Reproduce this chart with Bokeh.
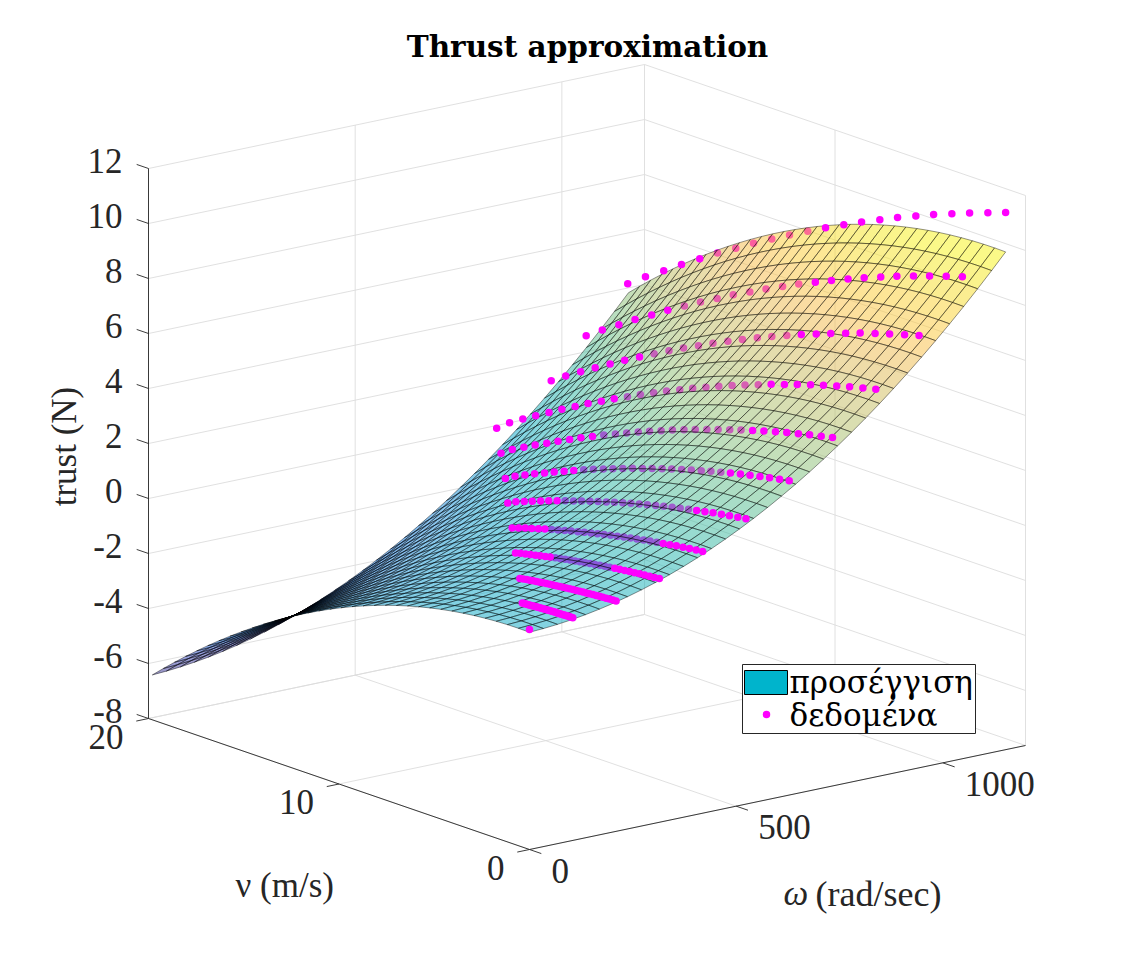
import numpy as np
from bokeh.plotting import figure
from bokeh.models import Range1d, ColumnDataSource
from bokeh.embed import file_html
from bokeh.resources import INLINE
from bokeh.core.properties import value

# ---------------- data ----------------
rpm = [1000, 2000, 3000, 4000, 5000, 6000, 7000, 8000, 9000, 10000, 11000]
static_thrust = [0.10, 0.38, 0.86, 1.52, 2.38, 3.43, 4.67, 6.10, 7.72, 9.53, 11.53]   # N at v = 0
max_speed = [2.65, 5.05, 7.55, 10.0, 12.5, 14.9, 17.4, 19.9, 22.4, 24.9, 27.4]       # m/s where thrust ~ 0
speed_fraction = [0.000, 0.034, 0.069, 0.103, 0.138, 0.172, 0.207, 0.241, 0.276, 0.310,
                  0.345, 0.379, 0.414, 0.448, 0.483, 0.517, 0.552, 0.586, 0.621, 0.655,
                  0.690, 0.724, 0.759, 0.793, 0.828, 0.862, 0.897, 0.931, 0.966, 1.000]
thrust_profile = [1.000, 0.980, 0.960, 0.938, 0.916, 0.892, 0.867, 0.841, 0.814, 0.786,
                  0.757, 0.727, 0.695, 0.663, 0.630, 0.595, 0.560, 0.523, 0.485, 0.446,
                  0.407, 0.366, 0.324, 0.281, 0.237, 0.191, 0.145, 0.098, 0.049, -0.010]
speed_cut = 19.9          # data kept for v <= 19.9 m/s
origin_point = (0.0, 0.0, 0.0)

# fitted surface  T = p00 + p10*w + p01*v + p20*w^2 + p11*w*v + p02*v^2
fit_p00 = -0.10
fit_p10 = 6.0e-4
fit_p01 = 0.020
fit_p20 = 7.165e-6
fit_p11 = 3.0e-6
fit_p02 = -0.0170
fit_w_max = 1152.0
fit_v_max = 19.8
fit_n = 35

omega_ticks = [0, 500, 1000]
nu_ticks = [0, 10, 20]
z_ticks = [-8, -6, -4, -2, 0, 2, 4, 6, 8, 10, 12]
W_LIM = (0.0, 1200.0)
V_LIM = (0.0, 20.0)
Z_LIM = (-8.0, 12.0)

title_text = "Thrust approximation"
z_label = "trust (N)"
nu_label = "ν (m/s)"
omega_sym = "ω"
omega_unit = "(rad/sec)"
legend_labels = ["προσέγγιση", "δεδομένα"]

# ---------------- projection (orthographic view) ----------------
OX, OY = 529.0, 849.0


def proj(w, v, t):
    a = (np.asarray(w, float) - W_LIM[0]) / (W_LIM[1] - W_LIM[0])
    b = (np.asarray(v, float) - V_LIM[0]) / (V_LIM[1] - V_LIM[0])
    c = (np.asarray(t, float) - Z_LIM[0]) / (Z_LIM[1] - Z_LIM[0])
    x = OX + 496.0 * a - 381.0 * b
    y = OY - 104.0 * a - 131.0 * b - 550.0 * c
    d = 373.0 * a + 470.0 * b - 153.0 * c
    return x, y, d


def fit(w, v):
    return (fit_p00 + fit_p10 * w + fit_p01 * v + fit_p20 * w * w
            + fit_p11 * w * v + fit_p02 * v * v)


parula = [
    (0.2081, 0.1663, 0.5292), (0.1959, 0.2645, 0.7279), (0.0117, 0.3875, 0.8820),
    (0.0498, 0.4586, 0.8641), (0.0793, 0.5200, 0.8312), (0.0343, 0.5966, 0.8199),
    (0.0228, 0.6535, 0.7768), (0.0843, 0.6928, 0.7062), (0.2178, 0.7250, 0.6193),
    (0.3953, 0.7459, 0.5244), (0.5709, 0.7485, 0.4494), (0.7184, 0.7411, 0.3905),
    (0.8506, 0.7299, 0.3360), (0.9739, 0.7314, 0.2666), (0.9880, 0.8066, 0.1794),
    (0.9589, 0.8949, 0.1132), (0.9763, 0.9831, 0.0538)]
pk = np.linspace(0, 1, len(parula))
par = np.array(parula)


def cmap(f):
    f = min(max(f, 0.0), 1.0)
    r, g, b = (np.interp(f, pk, par[:, k]) for k in range(3))
    return "#%02x%02x%02x" % (int(r * 255 + 0.5), int(g * 255 + 0.5), int(b * 255 + 0.5))


# ---------------- figure ----------------
FW, FH = 1118, 937
p = figure(width=FW, height=FH, output_backend="svg", toolbar_location=None,
           x_range=Range1d(0, FW), y_range=Range1d(FH, 0), min_border=0)
p.axis.visible = False
p.grid.visible = False
p.outline_line_color = None
p.background_fill_color = "white"
p.border_fill_color = "white"

GRID = "#dcdcdc"
AX = "#262626"

# grid lines on back walls and floor
gx, gy = [], []


def seg(p0, p1):
    x, y, _ = proj([p0[0], p1[0]], [p0[1], p1[1]], [p0[2], p1[2]])
    gx.append(list(x)); gy.append(list(y))


for t in z_ticks:
    seg((W_LIM[0], V_LIM[1], t), (W_LIM[1], V_LIM[1], t))   # left wall
    seg((W_LIM[1], V_LIM[0], t), (W_LIM[1], V_LIM[1], t))   # right wall
for w in omega_ticks:
    seg((w, V_LIM[1], Z_LIM[0]), (w, V_LIM[1], Z_LIM[1]))
    seg((w, V_LIM[0], Z_LIM[0]), (w, V_LIM[1], Z_LIM[0]))
for v in nu_ticks:
    seg((W_LIM[1], v, Z_LIM[0]), (W_LIM[1], v, Z_LIM[1]))
    seg((W_LIM[0], v, Z_LIM[0]), (W_LIM[1], v, Z_LIM[0]))
p.multi_line(gx, gy, line_color=GRID, line_width=0.9)

# axes lines and ticks
ax_x, ax_y = [], []


def aseg(p0, p1):
    x, y, _ = proj([p0[0], p1[0]], [p0[1], p1[1]], [p0[2], p1[2]])
    ax_x.append(list(x)); ax_y.append(list(y))


aseg((W_LIM[0], V_LIM[1], Z_LIM[0]), (W_LIM[0], V_LIM[1], Z_LIM[1]))
aseg((W_LIM[0], V_LIM[0], Z_LIM[0]), (W_LIM[0], V_LIM[1], Z_LIM[0]))
aseg((W_LIM[0], V_LIM[0], Z_LIM[0]), (W_LIM[1], V_LIM[0], Z_LIM[0]))
TL = 12.5
zt_dir = np.array([-0.946, -0.325])
vt_dir = np.array([-0.978, 0.205])
wt_dir = np.array([0.946, 0.325])
for t in z_ticks:
    x, y, _ = proj(W_LIM[0], V_LIM[1], t)
    ax_x.append([float(x), float(x + TL * zt_dir[0])]); ax_y.append([float(y), float(y + TL * zt_dir[1])])
for v in nu_ticks:
    x, y, _ = proj(W_LIM[0], v, Z_LIM[0])
    ax_x.append([float(x), float(x + TL * vt_dir[0])]); ax_y.append([float(y), float(y + TL * vt_dir[1])])
for w in omega_ticks:
    x, y, _ = proj(w, V_LIM[0], Z_LIM[0])
    ax_x.append([float(x), float(x + TL * wt_dir[0])]); ax_y.append([float(y), float(y + TL * wt_dir[1])])
p.multi_line(ax_x, ax_y, line_color=AX, line_width=0.9)

# ---------------- data points ----------------
dw, dv, dt = [origin_point[0]], [origin_point[1]], [origin_point[2]]
for r, t0, vm in zip(rpm, static_thrust, max_speed):
    w = r * 2 * np.pi / 60.0
    for sf, tp in zip(speed_fraction, thrust_profile):
        v = vm * sf
        if v <= speed_cut:
            dw.append(w); dv.append(v); dt.append(t0 * tp)
dw, dv, dt = np.array(dw), np.array(dv), np.array(dt)
px, py, _ = proj(dw, dv, dt)
front = dt > fit(dw, dv) - 0.08
MAG = "#ff00ff"
p.scatter(px[~front], py[~front], size=7.5, fill_color=MAG, line_color=None)

# ---------------- fitted surface ----------------
wg = np.linspace(0, fit_w_max, fit_n)
vg = np.linspace(0, fit_v_max, fit_n)
WW, VV = np.meshgrid(wg, vg, indexing="ij")
TT = fit(WW, VV)
X, Y, D = proj(WW, VV, TT)
tmin, tmax = TT.min(), TT.max()
fx, fy, fc, fd = [], [], [], []
for i in range(fit_n - 1):
    for j in range(fit_n - 1):
        ids = [(i, j), (i + 1, j), (i + 1, j + 1), (i, j + 1)]
        fx.append([float(X[a, b]) for a, b in ids])
        fy.append([float(Y[a, b]) for a, b in ids])
        tc = np.mean([TT[a, b] for a, b in ids])
        fc.append(cmap((tc - tmin) / (tmax - tmin)))
        fd.append(np.mean([D[a, b] for a, b in ids]))
order = np.argsort(-np.array(fd))
src = ColumnDataSource(dict(xs=[fx[k] for k in order], ys=[fy[k] for k in order],
                            c=[fc[k] for k in order]))
p.patches("xs", "ys", source=src, fill_color="c", fill_alpha=0.5,
          line_color="black", line_width=0.5, line_alpha=0.85)

p.scatter(px[front], py[front], size=7.5, fill_color=MAG, line_color=None)

# ---------------- texts ----------------
SERIF = value("Liberation Serif")
FS = "35px"
for t in z_ticks:
    x, y, _ = proj(W_LIM[0], V_LIM[1], t)
    p.text([float(x) - 26], [float(y) - 8], text=[str(t)], text_font=SERIF, text_font_size=FS,
           text_align="right", text_baseline="middle", text_color=AX)
for v in nu_ticks:
    x, y, _ = proj(W_LIM[0], v, Z_LIM[0])
    p.text([float(x) - 25], [float(y) + 18], text=[str(v)], text_font=SERIF, text_font_size=FS,
           text_align="right", text_baseline="middle", text_color=AX)
for w in omega_ticks:
    x, y, _ = proj(w, V_LIM[0], Z_LIM[0])
    p.text([float(x) + 22], [float(y) + 21], text=[str(w)], text_font=SERIF, text_font_size=FS,
           text_align="left", text_baseline="middle", text_color=AX)

p.text([587], [46], text=[title_text], text_font=value("DejaVu Serif"), text_font_size="29.5px",
       text_font_style="bold", text_align="center", text_baseline="middle", text_color="black")
p.text([64], [446], text=[z_label], text_font=SERIF, text_font_size=FS, angle=np.pi / 2,
       text_align="center", text_baseline="middle", text_color=AX)
p.text([235], [885], text=[nu_label], text_font=SERIF, text_font_size=FS,
       text_align="left", text_baseline="middle", text_color=AX)
p.text([783], [893], text=[omega_sym], text_font=SERIF, text_font_size=FS, text_font_style="italic",
       text_align="left", text_baseline="middle", text_color=AX)
p.text([815], [893], text=[omega_unit], text_font=SERIF, text_font_size="36px",
       text_align="left", text_baseline="middle", text_color=AX)

# ---------------- legend ----------------
p.quad(left=[742], right=[975], top=[664], bottom=[733], fill_color="white",
       line_color=AX, line_width=1)
p.quad(left=[744], right=[787], top=[670], bottom=[694], fill_color="#00b4cc",
       line_color="black", line_width=1)
p.scatter([766], [714], size=7.5, fill_color=MAG, line_color=None)
LF = value("DejaVu Serif")
p.text([789], [681], text=[legend_labels[0]], text_font=LF, text_font_size="31px",
       text_align="left", text_baseline="middle", text_color="black")
p.text([789], [714], text=[legend_labels[1]], text_font=LF, text_font_size="31px",
       text_align="left", text_baseline="middle", text_color="black")

open("out.html", "w").write(file_html(p, INLINE))
